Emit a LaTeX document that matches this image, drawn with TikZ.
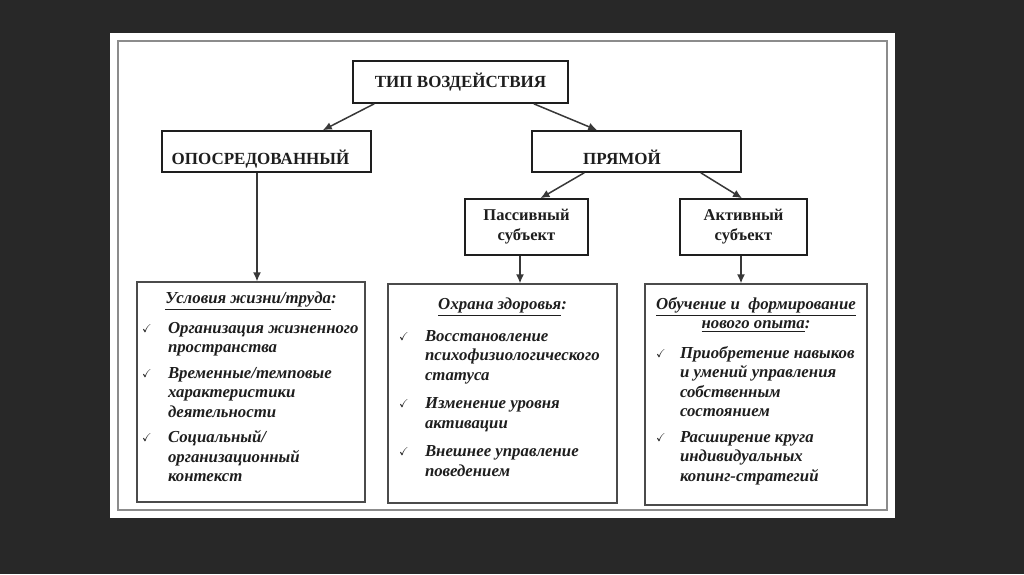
\documentclass[tikz,border=0pt]{standalone}
\usepackage{amssymb}
\usepackage{fontspec}
\setmainfont{Liberation Serif}
\usepackage{tikz}
\usetikzlibrary{arrows.meta,positioning}
\definecolor{bgc}{HTML}{282828}
\definecolor{frm}{HTML}{8C8C8C}
\definecolor{ink}{HTML}{1E1E1E}
\definecolor{arr}{HTML}{383838}
\newlength\chkgap
\newcommand\chk[2][26pt]{\par\vspace{\chkgap}\noindent\hangindent=#1\hangafter=1\makebox[#1][l]{\fontsize{11.5}{10}\selectfont\raisebox{1pt}{$\checkmark$}}#2}
\newcommand\ttl[2][]{{\centering\underline{#2}#1\par}}

\begin{document}
\begin{tikzpicture}[x=1pt, y=-1pt, line width=1.6pt]
\tikzset{arw/.style={-{Latex[length=9pt,width=8pt]}}}
\fill[bgc] (0,0) rectangle (1024,574); %%
\fill[white] (110,33) rectangle (895,518); %%
\draw[frm, line width=1.4pt] (118,41) rectangle (887,510); %%
\begin{scope}[ink, text=ink, font=\bfseries\fontsize{17}{19}\selectfont]
\tikzstyle{every node}=[draw, inner sep=0pt] %%
\node[minimum width=215, minimum height=42] (tip) at (460.5,82) {ТИП ВОЗДЕЙСТВИЯ}; %%
\node[minimum width=209, minimum height=41, text height=25pt, text depth=0pt] (kosv) at (266.5,151.5) {ОПОСРЕДОВАННЫЙ\hspace*{12pt}}; %%
\node[minimum width=209, minimum height=41, text height=25pt, text depth=0pt] (pryam) at (636.5,151.5) {ПРЯМОЙ\hspace*{29pt}}; %%
\node[minimum width=123, minimum height=56, align=center, font=\bfseries\fontsize{16.5}{20}\selectfont] (pass) at (526.5,227) {Пассивный\\субъект}; %%
\node[minimum width=127, minimum height=56, align=center, font=\bfseries\fontsize{16.5}{20}\selectfont] (akt) at (743.5,227) {Активный\\субъект}; %%
\end{scope}
\begin{scope}[text=ink, font=\bfseries\itshape\fontsize{16.8}{19.5}\selectfont]
\tikzstyle{every node}=[draw=ink!80, line width=1.3pt, inner ysep=8pt] %%
\node[inner xsep=5pt] (usl) at (251,392) {\parbox[c][204pt][t]{218pt}{\raggedright\setlength\chkgap{6pt} %%
\vspace*{2pt}\ttl[:]{Условия жизни/труда}\vspace{4pt}
\chk{Организация жизненного\newline пространства}
\chk{Временные/темповые\newline характеристики\newline деятельности}
\chk{Социальный/\newline организационный\newline контекст}}}; %%
\node[inner xsep=11pt] (ohr) at (502.5,393.5) {\parbox[c][203pt][t]{207pt}{\raggedright\setlength\chkgap{9pt} %%
\vspace*{6pt}\ttl[:]{Охрана здоровья}\vspace{3pt}
\chk{Восстановление\newline психофизиологического\newline статуса}
\chk{Изменение уровня\newline активации}
\chk{Внешнее управление\newline поведением}}}; %%
\node[inner xsep=11pt] (obuch) at (756,394.5) {\parbox[c][205pt][t]{200pt}{\raggedright\setlength\chkgap{6pt} %%
\vspace*{5pt}\ttl{Обучение и\ \ формирование}
\ttl[:]{нового опыта}\vspace{4pt}
\chk[24pt]{Приобретение навыков\newline и умений управления\newline собственным\newline состоянием}
\chk[24pt]{Расширение круга\newline индивидуальных\newline копинг-стратегий}}}; %%
\end{scope}
\begin{scope}[arr, line width=1.5pt]
\draw[arw] ([xshift=22pt]tip.south west) -- ([xshift=-49pt]kosv.north east); %%
\draw[arw] ([xshift=-35pt]tip.south east) -- ([xshift=66pt]pryam.north west); %%
\draw[arw] ([xshift=53pt]pryam.south west) -- ([xshift=14pt]pass.north); %%
\draw[arw] ([xshift=-41pt]pryam.south east) -- ([xshift=-1.5pt]akt.north); %%
\draw[arw] ([xshift=-9.5pt]kosv.south) -- ([xshift=-9.5pt]kosv.south |- usl.north); %%
\draw[arw] ([xshift=-6.5pt]pass.south) -- ([xshift=-6.5pt]pass.south |- ohr.north); %%
\draw[arw] ([xshift=-2.5pt]akt.south) -- ([xshift=-2.5pt]akt.south |- obuch.north); %%
\end{scope}
\end{tikzpicture}
\end{document}
